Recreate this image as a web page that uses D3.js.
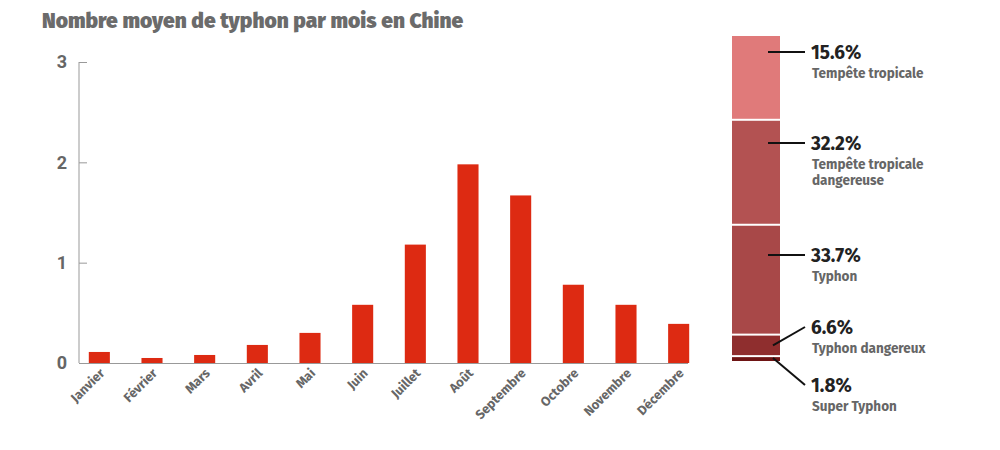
<!DOCTYPE html>
<html><head><meta charset="utf-8">
<script src="https://cdn.jsdelivr.net/npm/d3@7"></script>
<style>body{margin:0;background:#fff;font-family:"Fira Sans",Roboto,sans-serif}</style>
</head><body>
<svg id="c" width="1000" height="450"></svg>
<script>
const months = ["Janvier","Février","Mars","Avril","Mai","Juin","Juillet","Août","Septembre","Octobre","Novembre","Décembre"];
const values = [0.11,0.05,0.08,0.18,0.3,0.58,1.18,1.98,1.67,0.78,0.58,0.39];
const yTicks = [0,1,2,3];
// stacked share, bottom to top
const catNames = [["Super Typhon"],["Typhon dangereux"],["Typhon"],["Tempête tropicale","dangereuse"],["Tempête tropicale"]];
const catShares = [1.8,6.6,33.7,32.2,15.6];
const catColors = ["#6e1414","#8f2e2e","#a84848","#b35252","#e07a7a"];

const svg = d3.select("#c");
const grey = "#666";

svg.append("text").attr("x",42).attr("y",28).attr("font-size",21).attr("font-weight",900)
  .attr("fill","#6b6b6b").text("Nombre moyen de typhon par mois en Chine");

const x = d3.scaleBand().domain(months).range([73,705]).paddingInner(0.6).paddingOuter(0.3);
const y = d3.scaleLinear().domain([0,3]).range([363,62]);

const yAxis = svg.append("g").attr("transform","translate(79,0)")
  .call(d3.axisLeft(y).tickValues(yTicks).tickSize(6).tickFormat(d3.format("d")));
yAxis.select(".domain").attr("stroke","#999").attr("d","M0,62V363");
yAxis.selectAll(".tick line").attr("stroke","#999").attr("x1",0).attr("x2",8);
yAxis.selectAll(".tick text").attr("x",-12).attr("font-size",18).attr("font-weight",700)
  .attr("fill",grey).attr("font-family","Roboto,sans-serif");

svg.append("g").selectAll("rect").data(values).join("rect")
  .attr("x",(d,i)=>x(months[i])).attr("width",x.bandwidth())
  .attr("y",d=>y(d)).attr("height",d=>y(0)-y(d)).attr("fill","#dd2a12");

svg.append("line").attr("x1",79).attr("x2",688).attr("y1",363.5).attr("y2",363.5).attr("stroke","#999");

svg.append("g").selectAll("text").data(months).join("text")
  .attr("transform",d=>`translate(${x(d)+x.bandwidth()/2+6},374) rotate(-45)`)
  .attr("text-anchor","end").attr("font-size",13).attr("font-weight",700).attr("fill",grey).text(d=>d);

// stacked share bar
const s = d3.scaleLinear().domain([0,100]).range([362,36]);
let cum = 0;
const segs = catShares.map((v,i)=>{const o={i,v,y0:cum,y1:cum+v}; cum+=v; return o;});
segs[segs.length-1].y1 = 100;
svg.append("g").selectAll("rect").data(segs).join("rect")
  .attr("x",732).attr("width",48)
  .attr("y",d=>s(d.y1)+(d.i===segs.length-1?0:1)).attr("height",d=>Math.max(1,s(d.y0)-s(d.y1)-(d.i===segs.length-1?1:2)))
  .attr("fill",d=>catColors[d.i]);

const labelY = [385,327,255,143,52];
const g = svg.append("g");
segs.forEach((d,i)=>{
  const my = (s(d.y0)+s(d.y1))/2;
  const ly = labelY[i];
  g.append("line").attr("x1",i<2?773:768).attr("y1",i<2?my+ (i===0?-1:0):ly)
    .attr("x2",805).attr("y2",ly).attr("stroke","#111").attr("stroke-width",2);
  g.append("text").attr("x",811).attr("y",ly+7).attr("font-size",19).attr("font-weight",700)
    .attr("fill","#222").text(d.v.toFixed(1)+"%");
  catNames[i].forEach((t,k)=>g.append("text").attr("x",812).attr("y",ly+26+k*16)
    .attr("font-size",13.5).attr("font-weight",700).attr("fill",grey).text(t));
});
</script>
</body></html>
